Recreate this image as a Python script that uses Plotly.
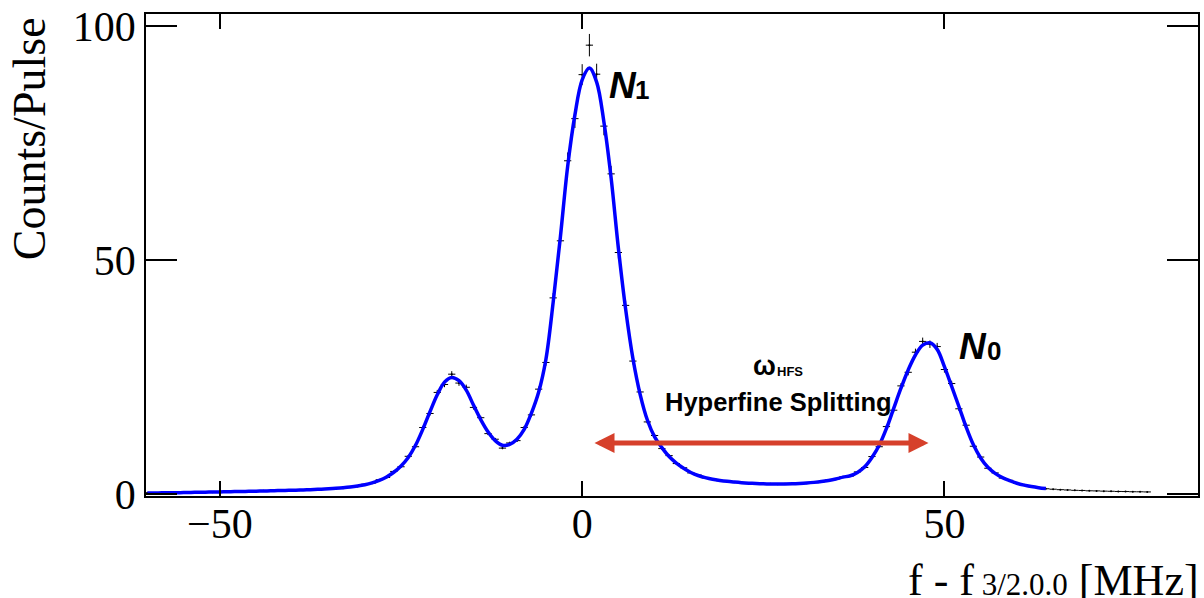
import plotly.graph_objects as go

# ---------------- data ----------------
fit_x = list(range(-60, 65))
fit_y = [0.20, 0.22, 0.24, 0.26, 0.28, 0.30, 0.33, 0.36, 0.39, 0.42,
         0.45, 0.48, 0.51, 0.54, 0.57, 0.60, 0.64, 0.68, 0.72, 0.76,
         0.80, 0.85, 0.90, 0.96, 1.02, 1.10, 1.20, 1.32, 1.48, 1.70,
         1.98, 2.38, 2.92, 3.65, 4.65, 6.0, 7.8, 10.4, 13.8, 17.6,
         21.2, 23.9, 24.9, 24.2, 22.2, 19.0, 15.9, 13.3, 11.4, 10.4,
         10.6, 11.7, 13.8, 17.3, 21.8, 28.8, 41.0, 55.0, 70.0, 81.0,
         88.5, 91.0, 88.0, 79.5, 67.5, 52.5, 39.5, 29.0, 21.3, 15.8,
         12.2, 9.9, 8.0, 6.6, 5.5, 4.6, 3.95, 3.5, 3.15, 2.9,
         2.7, 2.55, 2.42, 2.32, 2.24, 2.18, 2.14, 2.12, 2.13, 2.17,
         2.24, 2.34, 2.48, 2.66, 2.9, 3.2, 3.6, 3.9, 4.6, 5.8,
         7.8, 10.4, 14.0, 18.3, 22.6, 26.5, 29.7, 31.8, 32.3, 30.9,
         27.2, 23.0, 18.7, 14.3, 10.5, 7.7, 5.7, 4.4, 3.5, 2.85,
         2.3, 1.9, 1.6, 1.35, 1.15]

data_x = list(range(-60, 79))
data_y = [0.25, 0.18, 0.27, 0.22, 0.31, 0.27, 0.36, 0.33, 0.41, 0.37,
          0.49, 0.44, 0.55, 0.50, 0.61, 0.56, 0.67, 0.63, 0.76, 0.71,
          0.84, 0.80, 0.95, 0.91, 1.08, 1.04, 1.26, 1.25, 1.55, 1.62,
          2.08, 2.28, 3.05, 3.52, 4.82, 5.82, 8.05, 10.1, 14.2, 17.2,
          21.7, 23.4, 25.6, 23.7, 22.8, 18.5, 16.3, 12.9, 11.7, 9.8,
          10.9, 11.4, 14.2, 16.9, 22.4, 28.1, 41.9, 54.1, 71.2, 80.2,
          89.6, 95.9, 89.7, 78.6, 68.4, 51.6, 40.3, 28.4, 21.8, 15.4,
          12.5, 9.7, 8.2, 6.5, 5.6, 4.5, 4.05, 3.42, 3.22, 2.84,
          2.76, 2.49, 2.47, 2.27, 2.29, 2.13, 2.19, 2.07, 2.18, 2.12,
          2.29, 2.29, 2.54, 2.60, 2.97, 3.14, 3.69, 3.82, 4.72, 5.66,
          8.0, 10.1, 14.4, 17.9, 23.1, 26.0, 30.3, 32.6, 32.0, 31.5,
          26.6, 23.6, 18.2, 14.7, 10.2, 7.9, 5.5, 4.5, 3.4, 2.92,
          2.24, 1.95, 1.55, 1.39, 1.12, 1.02, 0.92, 0.86, 0.78, 0.75,
          0.68, 0.66, 0.61, 0.58, 0.54, 0.52, 0.48, 0.47, 0.44]

x_ticks = [-50, 0, 50]
y_ticks = [0, 50, 100]

# splitting arrow (from N1 peak to N0 peak)
arrow_x0, arrow_x1, arrow_y = 1.5, 47.8, 10.9

# ---------------- figure ----------------
fig = go.Figure()

fig.add_trace(go.Scatter(
    x=data_x, y=data_y, mode='markers',
    marker=dict(color='black', size=2),
    error_y=dict(type='percent', value=2.5, color='black', thickness=1, width=0),
    error_x=dict(type='constant', value=0.5, color='black', thickness=1, width=0),
    showlegend=False, hoverinfo='skip'))

fig.add_trace(go.Scatter(
    x=fit_x, y=fit_y, mode='lines',
    line=dict(color='#0000ff', width=3.5, shape='spline'),
    showlegend=False))

serif = 'Liberation Serif'
sans = 'Liberation Sans'

annotations = [
    # double-headed arrow
    dict(x=arrow_x1, y=arrow_y, ax=arrow_x0, ay=arrow_y, xref='x', yref='y',
         axref='x', ayref='y', text='', showarrow=True, arrowhead=2,
         startarrowhead=2, arrowside='end+start', arrowsize=0.8,
         startarrowsize=0.8, arrowwidth=5, arrowcolor='#d6402b',
         standoff=0, startstandoff=0),
    # N1
    dict(x=5.58, y=87.3, xref='x', yref='y', text='<b><i>N</i></b>', showarrow=False,
         font=dict(family=sans, size=37, color='black'), xanchor='center', yanchor='middle'),
    dict(x=8.27, y=86.4, xref='x', yref='y', text='<b>1</b>', showarrow=False,
         font=dict(family=sans, size=26, color='black'), xanchor='center', yanchor='middle'),
    # N0
    dict(x=54.0, y=31.5, xref='x', yref='y', text='<b><i>N</i></b>', showarrow=False,
         font=dict(family=sans, size=37, color='black'), xanchor='center', yanchor='middle'),
    dict(x=56.8, y=30.6, xref='x', yref='y', text='<b>0</b>', showarrow=False,
         font=dict(family=sans, size=26, color='black'), xanchor='center', yanchor='middle'),
    # omega_HFS
    dict(x=25.2, y=27.4, xref='x', yref='y', text='<b>ω</b>', showarrow=False,
         font=dict(family=sans, size=27, color='black'), xanchor='center', yanchor='middle'),
    dict(x=28.66, y=26.2, xref='x', yref='y', text='<b>HFS</b>', showarrow=False,
         font=dict(family=sans, size=13, color='black'), xanchor='center', yanchor='middle'),
    dict(x=27.1, y=19.6, xref='x', yref='y', text='<b>Hyperfine Splitting</b>', showarrow=False,
         font=dict(family=sans, size=25.5, color='black'), xanchor='center', yanchor='middle'),
    # axis titles
    dict(x=-0.110, y=0.7407, xref='paper', yref='paper', text='Counts/Pulse', showarrow=False,
         textangle=-90, font=dict(family=serif, size=46, color='black'),
         xanchor='center', yanchor='middle'),
    dict(x=1.003, y=-0.1747, xref='paper', yref='paper',
         text='f - f<span style="font-size:31px"> 3/2.0.0</span> [MHz]', showarrow=False,
         font=dict(family=serif, size=44, color='black'), xanchor='right', yanchor='middle'),
]

fig.update_layout(
    width=1204, height=598,
    margin=dict(l=146, r=4, t=14, b=102),
    paper_bgcolor='white', plot_bgcolor='white',
    annotations=annotations,
    xaxis=dict(range=[-60.2, 85.0], tickvals=x_ticks, ticks='inside', ticklen=15,
               tickwidth=1.5, tickcolor='black', mirror='ticks', showline=True,
               linecolor='black', linewidth=1.5, showgrid=False, zeroline=False,
               ticklabelstandoff=-10,
               tickfont=dict(family=serif, size=42, color='black')),
    yaxis=dict(range=[-0.43, 102.56], tickvals=y_ticks, ticks='inside', ticklen=31,
               tickwidth=1.5, tickcolor='black', mirror='ticks', showline=True,
               linecolor='black', linewidth=1.5, showgrid=False, zeroline=False,
               tickfont=dict(family=serif, size=42, color='black')),
)

fig.write_html('out.html', config={'displayModeBar': False},
               post_script="document.body.style.margin='0px';document.body.style.overflow='hidden';")
